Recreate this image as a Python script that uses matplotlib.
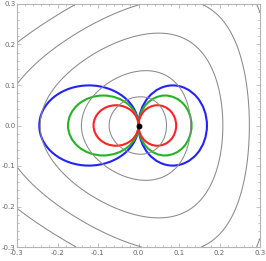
import numpy as np
import matplotlib
matplotlib.use("Agg")
import matplotlib.pyplot as plt
from matplotlib.patches import Ellipse
from matplotlib.ticker import MultipleLocator

# grey contour levels of the potential
levels = [0.0025, 0.009, 0.0247, 0.0443, 0.0695]

# coloured lobes: horizontal extent of left / right lobe, half height
lobe_left = [0.111, 0.174, 0.245]
lobe_right = [0.093, 0.131, 0.169]
lobe_half_h = [0.050, 0.074, 0.099]
lobe_colors = ["#ff2222", "#22b422", "#2222ff"]

lim = 0.3

fig = plt.figure(figsize=(2.66, 2.61), dpi=100)
ax = fig.add_axes([17 / 266, 14 / 261, 243 / 266, 243 / 261])

xs = np.linspace(-lim, lim, 500)
X, Y = np.meshgrid(xs, xs)
V = (X**2 + Y**2) / 2 + X**3 / 3 - X * Y**2
ax.contour(X, Y, V, levels=levels, colors="#8a8a8a", linewidths=0.75)

for wl, wr, h, c in zip(lobe_left[::-1], lobe_right[::-1], lobe_half_h[::-1], lobe_colors[::-1]):
    ax.add_patch(Ellipse((-wl / 2, 0), wl, 2 * h, fill=False, ec=c, lw=1.5))
    ax.add_patch(Ellipse((wr / 2, 0), wr, 2 * h, fill=False, ec=c, lw=1.5))

ax.plot([0], [0], "o", color="black", ms=3.2)

ax.set_xlim(-lim, lim)
ax.set_ylim(-lim, lim)

for s in ax.spines.values():
    s.set_color("#b4b4b4")
    s.set_linewidth(0.8)


def fmt(v, p):
    s = f"{v:.1f}"
    return "0.0" if s == "-0.0" else s


ax.xaxis.set_major_locator(MultipleLocator(0.1))
ax.yaxis.set_major_locator(MultipleLocator(0.1))
ax.xaxis.set_minor_locator(MultipleLocator(0.02))
ax.yaxis.set_minor_locator(MultipleLocator(0.02))
ax.tick_params(which="both", direction="in", top=True, right=True,
               color="#b4b4b4", width=0.6, labelsize=5, labelcolor="#666666", pad=1.2)
ax.tick_params(axis="x", pad=2.4)
ax.tick_params(which="major", length=2.8)
ax.tick_params(which="minor", length=1.6)
ax.xaxis.set_major_formatter(plt.FuncFormatter(fmt))
ax.yaxis.set_major_formatter(plt.FuncFormatter(fmt))

fig.savefig("out.png", dpi=100)
